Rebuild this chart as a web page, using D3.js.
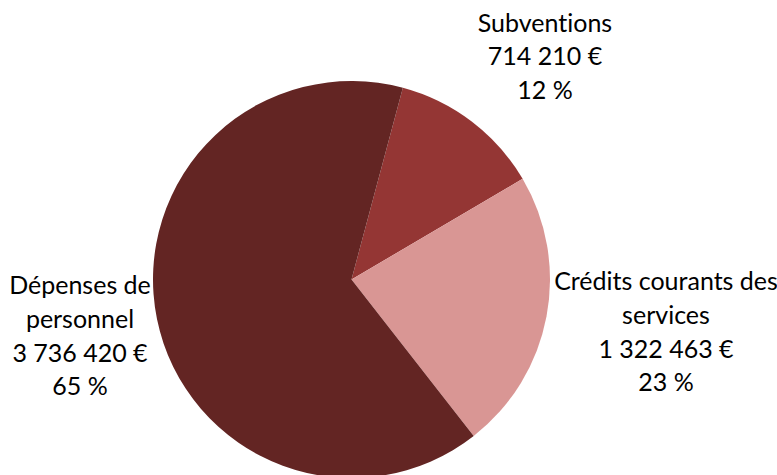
<!DOCTYPE html>
<html>
<head>
<meta charset="utf-8">
<script src="https://cdn.jsdelivr.net/npm/d3@7/dist/d3.min.js"></script>
<style>
  html, body { margin: 0; padding: 0; background: #ffffff; }
  svg { display: block; }
  text { font-family: Lato, "Open Sans", sans-serif; fill: #000000; font-variant-ligatures: none; font-feature-settings: "liga" 0, "dlig" 0; }
</style>
</head>
<body>
<svg id="chart" width="777" height="475"></svg>
<script>
// Budget breakdown (euros)
const categories = ["Subventions", "Crédits courants des services", "Dépenses de personnel"];
const amounts = [714210, 1322463, 3736420];
const colors = ["#943634", "#D99694", "#632523"];
// Label lines as printed next to each slice
const labelLines = [
  ["Subventions"],
  ["Crédits courants des", "services"],
  ["Dépenses de", "personnel"]
];

const width = 777, height = 475;
const cx = 351.5, cy = 279.5, radius = 198.5;
const startDeg = 15;

const svg = d3.select("#chart");
const total = d3.sum(amounts);

const data = categories.map((c, i) => ({ name: c, value: amounts[i], color: colors[i], lines: labelLines[i] }));

const pie = d3.pie()
  .sort(null)
  .value(d => d.value)
  .startAngle(startDeg * Math.PI / 180)
  .endAngle(startDeg * Math.PI / 180 + 2 * Math.PI);

const arc = d3.arc().innerRadius(0).outerRadius(radius);

const g = svg.append("g").attr("transform", `translate(${cx},${cy})`);
g.selectAll("path")
  .data(pie(data))
  .join("path")
  .attr("d", arc)
  .attr("fill", d => d.data.color);

// French number formatting: space-separated thousands
const fmt = v => d3.format(",")(v).replace(/,/g, " ");
const pct = v => Math.round(v / total * 100) + " %";

// Label anchor positions (centre x, first baseline y)
const labelPos = [
  { x: 545, y: 31.5 },
  { x: 666, y: 290 },
  { x: 80, y: 294 }
];
const lineH = 33.8;

data.forEach((d, i) => {
  const lines = d.lines.concat([fmt(d.value) + " €", pct(d.value)]);
  const t = svg.append("text")
    .attr("text-anchor", "middle")
    .attr("font-size", 25);
  lines.forEach((ln, k) => {
    t.append("tspan")
      .attr("x", labelPos[i].x)
      .attr("y", labelPos[i].y + k * lineH)
      .text(ln);
  });
});
</script>
</body>
</html>
